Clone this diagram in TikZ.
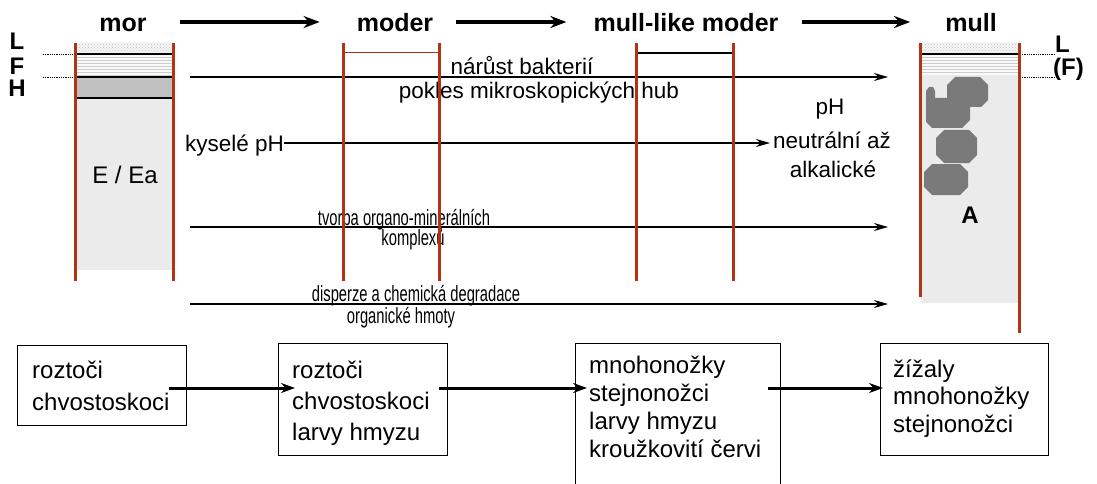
\documentclass[tikz,border=0pt]{standalone}
\usepackage{fontspec}
\setmainfont{Liberation Sans}
\usetikzlibrary{arrows.meta,patterns,calc}
\definecolor{soilred}{RGB}{178,50,20}
\definecolor{humus}{RGB}{122,122,122}
\definecolor{mineral}{RGB}{235,235,235}
\definecolor{hlayer}{RGB}{192,192,192}

\begin{document}
\begin{tikzpicture}[x=1pt,y=-1pt,
  redwall/.style={draw=soilred,line width=3pt},
  stagetitle/.style={font=\bfseries\fontsize{25}{30}\selectfont, inner sep=0pt, anchor=base},
  bigarrow/.style={line width=4pt,-{Stealth[length=16pt,width=12pt]}},
  flow/.style={line width=1.6pt,-{Stealth[length=14pt,width=8pt]}},
  lbl/.style={font=\fontsize{22.5}{27}\selectfont, inner sep=0pt, anchor=base},
  narrow/.style={font=\fontsize{22}{26}\selectfont, inner sep=0pt, anchor=base, xscale=0.67},
  horizon/.style={font=\bfseries\fontsize{24}{28}\selectfont, inner sep=0pt, anchor=base},
  fauna/.style={draw, line width=1.3pt, anchor=north west, inner sep=0pt},
  faunatext/.style={align=left, inner sep=0pt, anchor=base west},
  boxarrow/.style={line width=3pt,-{Stealth[length=14pt,width=10pt]}},
  leader/.style={densely dotted, line width=0.8pt},
  stipple/.style={pattern=crosshatch dots, pattern color=gray!45},
  fibric/.style={pattern=horizontal lines, pattern color=gray!40},
]
\useasboundingbox (0,0) rectangle (1097,484);
\fill[white] (0,0) rectangle (1097,484);
\clip (0,0) rectangle (1097,484);

% ---- stage titles and the arrows between them
\coordinate (ttl) at (0,22);
\node[stagetitle] (mor) at (123,32) {mor};
\node[stagetitle] (moder) at (395,32) {moder};
\node[stagetitle] (mlm) at (686,32) {mull-like moder};
\node[stagetitle] (mull) at (971,32) {mull};
\draw[bigarrow] ($(mor.east |- ttl)+(33,0)$) -- ($(moder.west |- ttl)+(-37,0)$);
\draw[bigarrow] ($(moder.east |- ttl)+(23,0)$) -- ($(mlm.west |- ttl)+(-27,0)$);
\draw[bigarrow] ($(mlm.east |- ttl)+(23,0)$) -- ($(mull.west |- ttl)+(-35,0)$);

% ---- mor profile
\fill[gray!8] (76,43) rectangle (172,54);
\fill[stipple] (76,43) rectangle (172,54);
\fill[gray!4] (76,54) rectangle (172,77);
\fill[fibric] (76,54) rectangle (172,77);
\fill[hlayer] (76,77) rectangle (172,98);
\fill[mineral] (76,98) rectangle (172,270);
\draw[line width=1.5pt] (76,54) -- (172,54) (76,77) -- (172,77) (76,98) -- (172,98);
\draw[leader] (43,54) -- (75,54) (43,77) -- (75,77);
\node[horizon] (hL) at (17,50) {L};
\node[horizon] (hF) at (17,75) {F};
\node[horizon] (hH) at (17,97) {H};
\node[font=\fontsize{24}{28}\selectfont, inner sep=0pt, anchor=base] (eea) at (125,183) {E / Ea};

% ---- mull profile
\fill[gray!8] (921,43) rectangle (1018,54);
\fill[stipple] (921,43) rectangle (1018,54);
\fill[gray!4] (921,54) rectangle (1018,75);
\fill[fibric] (921,54) rectangle (1018,75);
\fill[mineral] (921,75) rectangle (1018,303);
\draw[line width=1.2pt] (921,54) -- (1018,54);
\draw[leader] (1020,54) -- (1055,54) (1020,77) -- (1055,77);
\node[horizon, anchor=base west] (mL) at (1055,53) {L};
\node[horizon, anchor=base west] (mF) at (1053,76) {(F)};
% humus aggregates
\fill[humus] (955,77) -- (980,77) -- (988,85) -- (988,100) -- (981,107) -- (970,107)
  -- (970,120) -- (962,128) -- (932,128) -- (926,122) -- (926,91) -- (929,87)
  -- (933,87) -- (935,91) -- (935,98) -- (947,98) -- (947,85) -- cycle;
\fill[humus] (944,130) -- (969,130) -- (977,138) -- (977,155) -- (969,163)
  -- (944,163) -- (936,155) -- (936,138) -- cycle;
\fill[humus] (932,164) -- (960,164) -- (968,172) -- (968,187) -- (960,195)
  -- (932,195) -- (924,187) -- (924,172) -- cycle;
\node[horizon] (hA) at (970,223) {A};

% ---- process arrows
\coordinate (f1s) at (190,77);  \coordinate (f1e) at (888,77);
\coordinate (f3s) at (190,227); \coordinate (f3e) at (888,227);
\coordinate (f4s) at (190,304); \coordinate (f4e) at (888,304);
\draw[flow] (f1s) -- (f1e);
\draw[flow] (f3s) -- (f3e);
\draw[flow] (f4s) -- (f4e);
\node[lbl] (bact) at (522,75) {nárůst bakterií};
\node[lbl] (fungi) at (539,99) {pokles mikroskopických hub};
\node[narrow] (omc1) at (404,225) {tvorba organo-minerálních};
\node[narrow] (omc2) at (413,245) {komplexů};
\node[narrow] (deg1) at (416,301) {disperze a chemická degradace};
\node[narrow] (deg2) at (401,323) {organické hmoty};

\coordinate (phrow) at (0,143);
\node[lbl, anchor=base west] (kys) at (185,151) {kyselé pH};
\node[lbl] (phtop) at (830,115) {pH};
\node[lbl] (neut) at (832,148) {neutrální až};
\node[lbl] (alk) at (833,177) {alkalické};
\draw[flow] (kys.east |- phrow) -- ($(neut.west |- phrow)+(-3,0)$);

% ---- profile walls
\draw[line width=1pt, soilred] (343,53) -- (439,53);
\draw[line width=1.2pt] (636,53) -- (733,53);
\draw[redwall] (75.5,43) -- (75.5,281) (173,43) -- (173,281);
\draw[redwall] (343,43) -- (343,281) (439,43) -- (439,281);
\draw[redwall] (636,43) -- (636,281) (733,43) -- (733,281);
\draw[redwall] (920,43) -- (920,297) (1019,43) -- (1019,333);

% ---- soil fauna (text nodes are placed by their last baseline)
\node[fauna, minimum width=169pt, minimum height=80pt] (b1) at (17,345) {};
\node[fauna, minimum width=169pt, minimum height=112pt] (b2) at (278,343) {};
\node[fauna, minimum width=205pt, minimum height=170pt] (b3) at (575,343) {};
\node[fauna, minimum width=168pt, minimum height=112pt] (b4) at (880,343) {};
\node[faunatext, font=\fontsize{24}{32}\selectfont] (t1) at (32,410) {roztoči\\chvostoskoci};
\node[faunatext, font=\fontsize{24}{31}\selectfont] (t2) at (292,440) {roztoči\\chvostoskoci\\larvy hmyzu};
\node[faunatext, font=\fontsize{24}{28}\selectfont] (t3) at (589,457) {mnohonožky\\stejnonožci\\larvy hmyzu\\kroužkovití červi};
\node[faunatext, font=\fontsize{24}{27.5}\selectfont] (t4) at (893,432) {žížaly\\mnohonožky\\stejnonožci};
\coordinate (brow) at (0,388);
\draw[boxarrow] ($(b1.east |- brow)+(-18,0)$) -- ($(b2.west |- brow)+(17,0)$);
\draw[boxarrow] ($(b2.east |- brow)+(-9,0)$) -- ($(b3.west |- brow)+(12,0)$);
\draw[boxarrow] ($(b3.east |- brow)+(-13,0)$) -- ($(b4.west |- brow)+(3,0)$);
\end{tikzpicture}
\end{document}
